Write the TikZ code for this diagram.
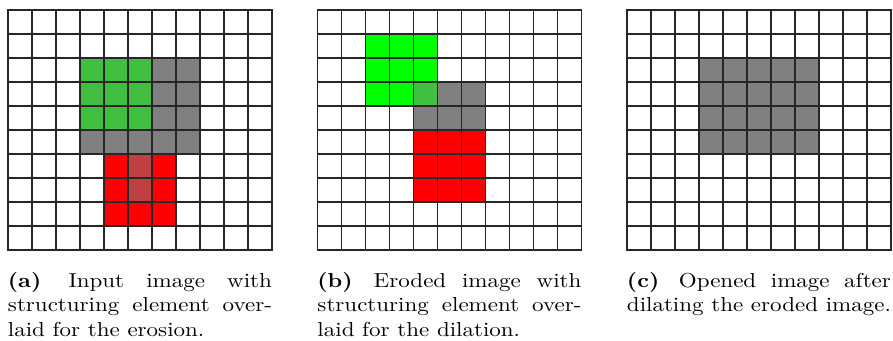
\documentclass[tikz,border=0pt]{standalone}
\definecolor{cgray}{RGB}{128,128,128}
\definecolor{cgreen}{RGB}{64,191,64}
\definecolor{cbgreen}{RGB}{0,255,0}
\definecolor{cred}{RGB}{255,0,0}
\definecolor{cdred}{RGB}{191,64,64}
\tikzset{
  gridline/.style={draw=black!85, line width=1.1pt, line cap=rect},
  caption/.style={anchor=base west, inner sep=0pt, xscale=2.3, yscale=2.02, transform shape,
    text width=114.78pt, align=justify, font=\fontsize{10pt}{12.1pt}\selectfont},
}
\newcommand{\cellfill}[3]{\fill[#1] (#2,#3) rectangle ++(1,1);}
\newcommand{\pixgrid}{%
  \foreach \i in {0,...,11} \draw[gridline] (\i,0) -- (\i,10);
  \foreach \j in {0,...,10} \draw[gridline] (0,\j) -- (11,\j);
}
\newcommand{\lblsep}{\hspace{2.2pt}\ }
\begin{document}
\begin{tikzpicture}[x=1pt,y=-1pt]
\useasboundingbox (0,0) rectangle (893,340);
\fill[white] (0,0) rectangle (893,340);
% panel (a)
\begin{scope}[shift={(8pt,-10pt)}, x=24pt, y=-24pt]
  \foreach \c in {3,4,5} \foreach \r in {2,3,4} {\cellfill{cgreen}{\c}{\r}}
  \foreach \c in {6,7} \foreach \r in {2,3,4,5} {\cellfill{cgray}{\c}{\r}}
  \foreach \c in {3,4,5} {\cellfill{cgray}{\c}{5}}
  \foreach \c in {4,5,6} \foreach \r in {6,7,8} {\cellfill{cred}{\c}{\r}}
  \foreach \r in {6,7} {\cellfill{cdred}{5}{\r}}
  \pixgrid
\end{scope}
% panel (b)
\begin{scope}[shift={(317.5pt,-10pt)}, x=24pt, y=-24pt]
  \foreach \c in {2,3,4} \foreach \r in {1,2,3} {\cellfill{cbgreen}{\c}{\r}}
  \cellfill{cgreen}{4}{3}
  \foreach \c in {5,6} {\cellfill{cgray}{\c}{3}}
  \foreach \c in {4,5,6} {\cellfill{cgray}{\c}{4}}
  \foreach \c in {4,5,6} \foreach \r in {5,6,7} {\cellfill{cred}{\c}{\r}}
  \pixgrid
\end{scope}
% panel (c)
\begin{scope}[shift={(627pt,-10pt)}, x=24pt, y=-24pt]
  \foreach \c in {3,...,7} \foreach \r in {2,...,5} {\cellfill{cgray}{\c}{\r}}
  \pixgrid
\end{scope}
% captions
\node[caption] (capa) at (7.5,287.3) {\textbf{(a)}\lblsep Input image with\linebreak structuring element over-\linebreak laid for the erosion.};
\node[caption] (capb) at (317,287.3) {\textbf{(b)}\lblsep Eroded image with\linebreak structuring element over-\linebreak laid for the dilation.};
\node[caption] (capc) at (626.5,287.3) {\textbf{(c)}\lblsep Opened image after\linebreak dilating the eroded image.};
\end{tikzpicture}
\end{document}
